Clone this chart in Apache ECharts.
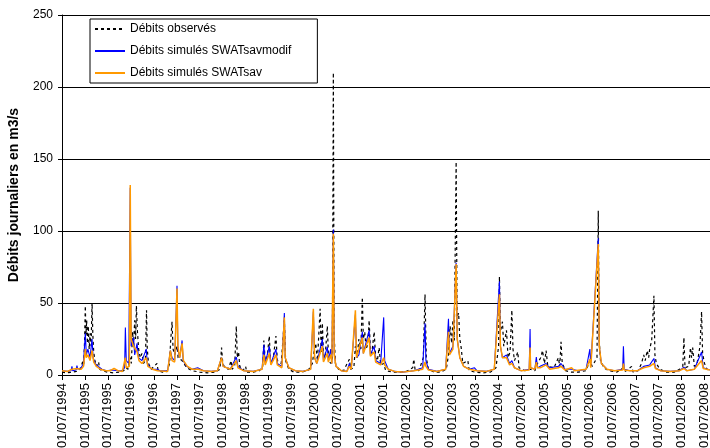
<!DOCTYPE html>
<html>
<head>
<meta charset="utf-8">
<script src="https://cdn.jsdelivr.net/npm/echarts@6/dist/echarts.min.js"></script>
<style>
  html, body { margin: 0; padding: 0; background: #fff; }
  #chart { width: 710px; height: 448px; }
</style>
</head>
<body>
<div id="chart"></div>
<script>
// Daily discharge (m3/s): observed flows and two SWAT simulations, July 1994 - August 2008
const seriesNames = ['Débits observés', 'Débits simulés SWATsavmodif', 'Débits simulés SWATsav'];
const yTicks = [0, 50, 100, 150, 200, 250];

const observed = [
  ['1994-07-01',2.0],['1994-08-10',1.5],['1994-09-20',2.0],['1994-10-25',2.5],['1994-11-25',4],
  ['1994-12-10',5],['1994-12-16',10],['1994-12-22',6],['1994-12-29',24],['1995-01-04',48],
  ['1995-01-09',28],['1995-01-15',38],['1995-01-21',22],['1995-01-28',34],['1995-02-04',18],
  ['1995-02-11',29],['1995-02-18',20],['1995-02-25',50],['1995-03-03',28],['1995-03-10',16],
  ['1995-03-20',10],['1995-04-01',6],['1995-04-18',9],['1995-04-26',4],['1995-05-20',3],
  ['1995-06-25',2],['1995-08-15',1.5],['1995-10-01',2],['1995-11-05',3],['1995-11-20',5],
  ['1995-12-10',4],['1995-12-27',12],['1996-01-05',8],['1996-01-15',30],['1996-01-23',20],
  ['1996-02-01',38],['1996-02-08',25],['1996-02-14',48],['1996-02-22',30],['1996-03-02',18],
  ['1996-03-15',12],['1996-03-29',15],['1996-04-10',8],['1996-04-25',10],['1996-05-04',45],
  ['1996-05-10',18],['1996-05-20',8],['1996-06-10',4],['1996-07-27',8],['1996-08-05',3],
  ['1996-09-10',2],['1996-10-15',2.5],['1996-11-05',8],['1996-11-12',22],['1996-11-24',37],
  ['1996-12-02',18],['1996-12-15',14],['1997-01-03',20],['1997-01-12',12],['1997-02-12',10],
  ['1997-02-25',8],['1997-03-20',5],['1997-05-01',3],['1997-07-01',2],['1997-09-01',1.5],
  ['1997-11-01',2],['1997-12-10',4],['1997-12-23',19],['1998-01-02',8],['1998-01-20',5],
  ['1998-02-15',4],['1998-03-07',10],['1998-03-15',4],['1998-04-05',6],['1998-04-18',34],
  ['1998-04-26',12],['1998-05-06',16],['1998-05-16',6],['1998-06-10',3],['1998-07-01',6],
  ['1998-07-10',2],['1998-09-01',2],['1998-10-20',3],['1998-11-15',6],['1998-11-24',24],
  ['1998-12-05',10],['1998-12-20',12],['1999-01-07',27],['1999-01-15',12],['1999-02-05',10],
  ['1999-02-27',27],['1999-03-10',10],['1999-04-10',8],['1999-05-05',38],['1999-05-15',10],
  ['1999-06-10',4],['1999-07-20',2],['1999-09-15',2],['1999-11-10',3],['1999-12-15',8],
  ['1999-12-24',14],['2000-01-11',22],['2000-01-25',10],['2000-02-15',46],['2000-02-23',15],
  ['2000-03-03',36],['2000-03-12',14],['2000-03-25',12],['2000-04-12',34],['2000-04-22',10],
  ['2000-05-10',8],['2000-05-22',12],['2000-05-30',210],['2000-06-05',30],['2000-06-15',8],
  ['2000-07-10',4],['2000-08-20',3],['2000-10-05',11],['2000-10-15',4],['2000-11-10',5],
  ['2000-11-22',20],['2000-12-05',12],['2000-12-20',25],['2001-01-05',18],['2001-01-17',54],
  ['2001-01-25',25],['2001-02-05',30],['2001-02-15',18],['2001-03-01',22],['2001-03-10',38],
  ['2001-03-20',18],['2001-04-01',15],['2001-04-19',30],['2001-05-01',12],['2001-05-15',10],
  ['2001-05-29',19],['2001-06-10',7],['2001-07-04',8],['2001-07-20',3],['2001-09-15',2],
  ['2001-11-01',2],['2002-01-01',2.5],['2002-02-20',5],['2002-02-28',11],['2002-03-10',4],
  ['2002-04-10',3],['2002-05-15',12],['2002-05-29',56],['2002-06-08',12],['2002-06-25',4],
  ['2002-08-10',2],['2002-10-01',2],['2002-11-15',4],['2002-12-02',14],['2002-12-15',34],
  ['2002-12-28',22],['2003-01-07',38],['2003-01-18',24],['2003-02-02',148],['2003-02-09',40],
  ['2003-02-20',43],['2003-03-01',25],['2003-03-12',19],['2003-03-25',8],['2003-05-04',10],
  ['2003-05-15',3],['2003-07-01',2],['2003-09-01',1.5],['2003-11-01',2],['2003-12-15',5],
  ['2004-01-05',20],['2004-01-12',68],['2004-01-20',30],['2004-02-05',37],['2004-02-15',20],
  ['2004-03-07',31],['2004-03-20',12],['2004-04-05',16],['2004-04-19',45],['2004-04-28',18],
  ['2004-05-10',10],['2004-06-06',16],['2004-06-15',5],['2004-08-01',3],['2004-09-12',4],
  ['2004-10-20',3],['2004-11-10',8],['2004-12-05',12],['2004-12-20',17],['2005-01-05',8],
  ['2005-01-18',17],['2005-02-01',6],['2005-03-20',5],['2005-04-24',12],['2005-05-05',6],
  ['2005-05-15',23],['2005-05-25',8],['2005-06-20',3],['2005-08-01',2],['2005-10-01',2],
  ['2005-12-01',3],['2006-01-01',10],['2006-01-20',6],['2006-02-25',12],['2006-03-07',114],
  ['2006-03-14',25],['2006-03-25',10],['2006-04-20',5],['2006-06-01',3],['2006-08-01',2],
  ['2006-09-24',5],['2006-10-10',2.5],['2006-11-29',6],['2006-12-10',2],['2007-01-20',3],
  ['2007-02-15',8],['2007-03-03',14],['2007-03-15',10],['2007-04-01',17],['2007-04-12',12],
  ['2007-04-20',18],['2007-05-06',24],['2007-05-24',55],['2007-06-01',14],['2007-06-12',8],
  ['2007-07-10',4],['2007-09-01',2],['2007-11-01',2],['2007-12-15',4],['2008-01-10',6],
  ['2008-01-19',26],['2008-01-28',5],['2008-02-25',6],['2008-03-10',19],['2008-03-19',12],
  ['2008-03-28',19],['2008-04-10',6],['2008-05-01',8],['2008-05-12',13],['2008-05-25',20],
  ['2008-06-07',44],['2008-06-15',15],['2008-06-30',8],['2008-07-20',4],['2008-08-12',3]
];

const simModif = [
  ['1994-07-01',3],['1994-08-15',2.5],['1994-09-12',3],['1994-09-19',6],['1994-09-25',3],
  ['1994-10-22',3.5],['1994-10-29',6.5],['1994-11-05',4],['1994-12-01',5],['1994-12-20',8],
  ['1995-01-04',29],['1995-01-12',14],['1995-01-25',18],['1995-02-10',12],['1995-02-25',25],
  ['1995-03-05',12],['1995-03-20',8],['1995-04-15',6],['1995-05-15',4],['1995-06-20',3],
  ['1995-08-01',3.5],['1995-09-15',3],['1995-10-20',3],['1995-11-12',5],['1995-11-18',33],
  ['1995-11-25',10],['1995-12-15',8],['1995-12-27',130],['1996-01-03',20],['1996-01-23',26],
  ['1996-02-01',14],['1996-02-19',22],['1996-03-01',12],['1996-03-29',10],['1996-05-02',18],
  ['1996-05-10',8],['1996-06-15',4],['1996-07-27',4],['1996-08-20',3],['1996-10-20',3],
  ['1996-11-11',17],['1996-11-24',12],['1996-12-15',10],['1997-01-03',62],['1997-01-10',18],
  ['1997-01-25',12],['1997-02-12',24],['1997-02-20',10],['1997-03-20',6],['1997-05-01',4],
  ['1997-06-15',5],['1997-08-01',3],['1997-10-01',2.5],['1997-11-20',3],['1997-12-23',12],
  ['1998-01-05',6],['1998-03-01',4],['1998-04-18',12.5],['1998-05-01',6],['1998-06-15',3],
  ['1998-09-01',2.5],['1998-11-10',4],['1998-11-24',21],['1998-12-05',8],['1999-01-07',20],
  ['1999-01-20',8],['1999-02-27',18],['1999-03-10',8],['1999-04-15',6],['1999-05-05',43],
  ['1999-05-12',12],['1999-06-10',5],['1999-08-01',3],['1999-10-01',2.5],['1999-12-01',4],
  ['1999-12-23',44],['2000-01-02',12],['2000-01-20',8],['2000-03-03',25],['2000-03-12',10],
  ['2000-04-12',19.5],['2000-04-20',10],['2000-05-09',18],['2000-05-18',8],['2000-05-30',101],
  ['2000-06-06',15],['2000-06-20',6],['2000-08-01',3],['2000-09-15',2.5],['2000-10-05',8],
  ['2000-10-20',4],['2000-11-22',42],['2000-12-01',12],['2000-12-20',14],['2001-01-17',30],
  ['2001-01-25',15],['2001-03-10',31],['2001-03-20',14],['2001-04-19',20],['2001-05-01',10],
  ['2001-06-10',8],['2001-07-04',40],['2001-07-12',10],['2001-08-10',4],['2001-10-01',2.5],
  ['2001-12-01',2],['2002-03-01',3],['2002-05-10',5],['2002-05-29',36],['2002-06-05',10],
  ['2002-06-25',4],['2002-09-01',2.5],['2002-11-10',4],['2002-12-02',39],['2002-12-10',15],
  ['2003-01-07',20],['2003-02-02',78],['2003-02-10',25],['2003-03-01',12],['2003-04-01',6],
  ['2003-05-15',4],['2003-06-26',5],['2003-07-15',3],['2003-10-01',2.5],['2003-12-01',4],
  ['2004-01-12',65],['2004-01-20',20],['2004-02-05',12],['2004-03-07',14],['2004-04-01',8],
  ['2004-04-19',10],['2004-05-10',5],['2004-07-01',3],['2004-09-05',4],['2004-09-12',32],
  ['2004-09-16',5],['2004-10-20',4],['2004-11-01',12.5],['2004-11-10',5],['2004-12-01',6],
  ['2005-01-18',8],['2005-02-15',5],['2005-04-24',6],['2005-05-15',8],['2005-06-15',4],
  ['2005-08-08',4],['2005-10-01',3],['2005-12-01',4],['2006-01-01',18],['2006-01-08',6],
  ['2006-03-07',95],['2006-03-15',20],['2006-04-01',8],['2006-05-15',4],['2006-07-15',3],
  ['2006-09-18',4],['2006-09-24',20],['2006-09-30',4],['2006-11-15',3],['2007-01-15',3],
  ['2007-03-03',6],['2007-04-20',7],['2007-05-24',11.5],['2007-06-05',5],['2007-07-15',3],
  ['2007-10-01',2.5],['2007-12-15',3],['2008-01-19',5.5],['2008-02-10',3],['2008-04-10',4],
  ['2008-06-07',16],['2008-06-20',5],['2008-08-12',3.5]
];

const simSav = [
  ['1994-07-01',3],['1994-08-15',2.5],['1994-09-19',4],['1994-10-29',4.5],['1994-12-01',4],
  ['1994-12-20',6],['1995-01-04',18],['1995-01-12',12],['1995-01-25',14],['1995-02-10',10],
  ['1995-02-25',17],['1995-03-10',9],['1995-04-01',6],['1995-05-01',4],['1995-06-15',3],
  ['1995-07-20',3],['1995-08-20',4.5],['1995-09-20',3],['1995-10-25',2.5],['1995-11-18',12],
  ['1995-11-25',5],['1995-12-20',6],['1995-12-27',132],['1996-01-03',25],['1996-01-23',20],
  ['1996-02-19',16],['1996-03-05',10],['1996-03-29',8],['1996-05-02',12],['1996-05-15',6],
  ['1996-06-20',4],['1996-08-01',3],['1996-10-20',2.5],['1996-11-11',17],['1996-11-24',10],
  ['1996-12-15',9],['1997-01-03',60],['1997-01-10',20],['1997-01-25',12],['1997-02-12',22],
  ['1997-02-22',10],['1997-03-25',6],['1997-05-01',4],['1997-06-20',4],['1997-08-01',3],
  ['1997-10-01',2.5],['1997-11-20',3],['1997-12-23',12],['1998-01-05',6],['1998-03-01',4],
  ['1998-04-18',10],['1998-05-01',5],['1998-06-15',3],['1998-09-01',2.5],['1998-11-10',4],
  ['1998-11-24',14],['1998-12-05',7],['1999-01-07',15],['1999-01-20',7],['1999-02-27',14],
  ['1999-03-10',7],['1999-04-15',5],['1999-05-05',40],['1999-05-12',12],['1999-06-10',5],
  ['1999-08-01',3],['1999-10-01',2.5],['1999-12-01',4],['1999-12-23',46],['2000-01-02',12],
  ['2000-01-20',8],['2000-03-03',20],['2000-03-12',9],['2000-04-12',15],['2000-04-20',9],
  ['2000-05-09',14],['2000-05-18',8],['2000-05-30',98],['2000-06-06',14],['2000-06-20',6],
  ['2000-08-01',3],['2000-09-15',2.5],['2000-10-05',6],['2000-10-20',4],['2000-11-22',45],
  ['2000-12-01',12],['2000-12-20',18],['2001-01-17',26],['2001-01-25',15],['2001-03-10',26],
  ['2001-03-20',13],['2001-04-19',16],['2001-05-01',9],['2001-06-10',7],['2001-07-04',12],
  ['2001-07-12',7],['2001-08-10',4],['2001-10-01',2.5],['2001-12-01',2],['2002-03-01',3],
  ['2002-05-10',4],['2002-05-29',9],['2002-06-05',6],['2002-06-25',3.5],['2002-09-01',2.5],
  ['2002-11-10',4],['2002-12-02',30],['2002-12-10',14],['2003-01-07',18],['2003-02-02',77],
  ['2003-02-10',25],['2003-03-01',12],['2003-04-01',6],['2003-05-15',4],['2003-07-15',3],
  ['2003-10-01',2.5],['2003-12-01',4],['2004-01-12',56],['2004-01-20',20],['2004-02-05',12],
  ['2004-03-07',12],['2004-04-01',7],['2004-04-19',8],['2004-05-10',5],['2004-07-01',3],
  ['2004-09-05',3.5],['2004-09-12',19],['2004-09-16',5],['2004-10-20',4],['2004-11-01',9],
  ['2004-11-10',5],['2004-12-01',5],['2005-01-18',7],['2005-02-15',4],['2005-04-24',5],
  ['2005-05-15',6],['2005-06-15',3.5],['2005-08-08',5],['2005-09-01',3],['2005-12-01',4],
  ['2006-01-01',11],['2006-01-08',5],['2006-03-07',91],['2006-03-15',20],['2006-04-01',8],
  ['2006-05-15',4],['2006-07-15',3],['2006-09-18',3.5],['2006-09-24',8],['2006-09-30',3.5],
  ['2006-11-15',3],['2007-01-15',3],['2007-03-03',5],['2007-04-20',6],['2007-05-24',8],
  ['2007-06-05',4.5],['2007-07-15',3],['2007-10-01',2.5],['2007-12-15',3],['2008-01-19',4.5],
  ['2008-02-10',3],['2008-04-10',4],['2008-06-07',10],['2008-06-20',4.5],['2008-08-12',3.5]
];

// The x axis counts months since 1 July 1994; a tick every 6 months.
const START_YEAR = 1994, START_MONTH = 7;
function monthIndex(dateStr) {
  const [y, m, d] = dateStr.split('-').map(Number);
  const dim = new Date(y, m, 0).getDate();
  return (y - START_YEAR) * 12 + (m - START_MONTH) + (d - 1) / dim;
}
function tickLabel(v) {
  if (Math.abs(v - Math.round(v)) > 1e-6 || Math.round(v) % 6 !== 0) return '';
  const k = Math.round(v) + (START_MONTH - 1);
  const year = START_YEAR + Math.floor(k / 12);
  const month = (k % 12) + 1;
  return '01/' + String(month).padStart(2, '0') + '/' + year;
}
const toPoints = arr => arr.map(([d, v]) => [monthIndex(d), v]);

const FONT = 'Liberation Sans, Arial, sans-serif';
const chart = echarts.init(document.getElementById('chart'), null, { renderer: 'canvas' });

chart.setOption({
  animation: false,
  backgroundColor: '#ffffff',
  grid: { left: 62, top: 15, right: 0, bottom: 73, containLabel: false, outerBoundsMode: 'none' },
  legend: {
    orient: 'vertical',
    left: 90, top: 19,
    padding: [4, 26, 4, 4],
    itemWidth: 30, itemHeight: 14, itemGap: 10,
    backgroundColor: '#ffffff',
    borderColor: '#000000', borderWidth: 1,
    itemStyle: { opacity: 0 },
    textStyle: { fontFamily: FONT, fontSize: 12, color: '#000' },
    data: seriesNames
  },
  xAxis: {
    type: 'value',
    min: 0, max: 169.4, interval: 6,
    axisLine: { onZero: false, lineStyle: { color: '#000', width: 1 } },
    axisTick: { show: true, length: 5, lineStyle: { color: '#000' } },
    splitLine: { show: false },
    axisLabel: {
      rotate: 90, margin: 8,
      fontFamily: FONT, fontSize: 13, color: '#000',
      formatter: tickLabel,
      showMaxLabel: false
    }
  },
  yAxis: {
    type: 'value',
    min: yTicks[0], max: yTicks[yTicks.length - 1], interval: 50,
    name: 'Débits journaliers en m3/s',
    nameLocation: 'middle', nameGap: 41,
    nameTextStyle: { fontFamily: FONT, fontSize: 14, fontWeight: 'bold', color: '#000' },
    axisLine: { show: true, lineStyle: { color: '#000', width: 1 } },
    axisTick: { show: true, length: 4, lineStyle: { color: '#000' } },
    splitLine: { show: true, lineStyle: { color: '#000', width: 1 } },
    axisLabel: { margin: 9, fontFamily: FONT, fontSize: 12, color: '#000' }
  },
  series: [
    {
      name: seriesNames[0], type: 'line', data: toPoints(observed),
      symbol: 'none', showSymbol: false,
      lineStyle: { color: '#000000', width: 1.2, type: [3, 3] },
      itemStyle: { color: '#000000' },
      z: 2
    },
    {
      name: seriesNames[1], type: 'line', data: toPoints(simModif),
      symbol: 'none', showSymbol: false,
      lineStyle: { color: '#0000ff', width: 1.1 },
      itemStyle: { color: '#0000ff' },
      z: 3
    },
    {
      name: seriesNames[2], type: 'line', data: toPoints(simSav),
      symbol: 'none', showSymbol: false,
      lineStyle: { color: '#ff9900', width: 1.5 },
      itemStyle: { color: '#ff9900' },
      z: 4
    }
  ]
});
</script>
</body>
</html>
